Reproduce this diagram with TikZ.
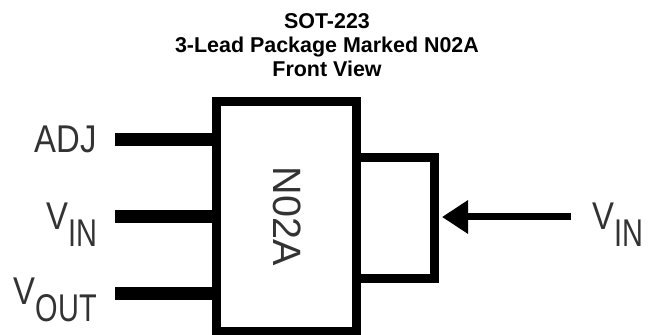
\documentclass[tikz,border=0pt]{standalone}
\usepackage{fontspec}
\usepackage{xcolor}
\usepackage{tikz}
\usepackage{graphicx}
\usetikzlibrary{arrows.meta, positioning, calc}
\setmainfont{Liberation Sans}
\definecolor{pkgblack}{HTML}{000000}
\definecolor{pingray}{HTML}{333333}
\newcommand{\pinsub}[2]{#1\raisebox{-9.4pt}{\scalebox{0.88}[1]{#2}}}

\begin{document}
\begin{tikzpicture}[
    pkgbox/.style={rectangle, draw=pkgblack, line width=0.18cm, outer sep=0pt},
    pinlabel/.style={inner sep=0pt, xscale=0.85, font=\fontsize{22}{24}\selectfont, text=pingray},
    leadline/.style={line width=0.26cm, color=pkgblack},
    arrow/.style={-{Triangle[length=0.52cm, width=0.64cm]}, line width=0.14cm, color=pkgblack, shorten >=0.15cm}
]
\useasboundingbox (0,0) rectangle (12.98,6.7);

% Title
\node[align=center, inner sep=0pt, font=\fontsize{12.2}{13.6}\selectfont\bfseries] (title) at (6.54,5.8) {SOT-223\\3-Lead Package Marked N02A\\Front View};

% Package body and tab
\node[pkgbox, minimum width=2.79cm, minimum height=4.59cm] (pkg) at (5.725,2.365) {};
\node[pkgbox, minimum width=1.57cm, minimum height=2.42cm] (tab) at (7.905,2.33) {};
\node[rotate=-90, inner sep=0pt, font=\fontsize{22.5}{24}\selectfont, text=pingray] (mark) at (5.74,2.38) {N02A};

% Left pins
\coordinate (adjend) at (2.3,3.9);
\coordinate (vinend) at (2.3,2.36);
\coordinate (voutend) at (2.3,0.82);
\draw[leadline] (adjend) -- (adjend -| pkg.west);
\draw[leadline] (vinend) -- (vinend -| pkg.west);
\draw[leadline] (voutend) -- (voutend -| pkg.west);

\node[pinlabel, anchor=base east] (adj) at (1.94,3.64) {ADJ};
\node[pinlabel, anchor=base east] (vin) at (1.96,2.10) {\pinsub{V}{IN}};
\node[pinlabel, anchor=base east] (vout) at (1.94,0.60) {\pinsub{V}{OUT}};

% Tab pin
\coordinate (tabend) at (11.42,2.36);
\draw[arrow] (tabend) -- (tabend -| tab.east);
\node[pinlabel, anchor=base west] (vintab) at (11.84,2.10) {\pinsub{V}{IN}};

\end{tikzpicture}
\end{document}
